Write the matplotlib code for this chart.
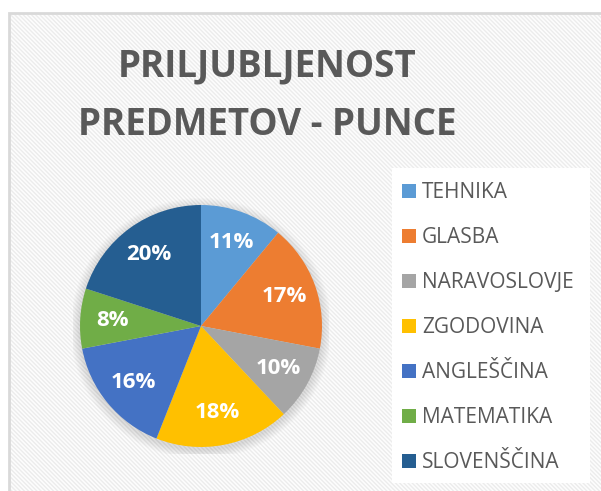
import numpy as np
import matplotlib.pyplot as plt
from matplotlib.patches import Rectangle, Circle

# Data ---------------------------------------------------------------------------------------------
title    = "PRILJUBLJENOST\nPREDMETOV - PUNCE"
subjects = ["TEHNIKA", "GLASBA", "NARAVOSLOVJE", "ZGODOVINA", "ANGLEŠČINA", "MATEMATIKA", "SLOVENŠČINA"]
shares   = [11, 17, 10, 18, 16, 8, 20]
colors   = ["#5B9BD5", "#ED7D31", "#A5A5A5", "#FFC000", "#4472C4", "#70AD47", "#255E91"]

W, H = 601, 491
plt.rcParams['font.family'] = ['Open Sans', 'DejaVu Sans']
plt.rcParams['hatch.linewidth'] = 1.0

fig = plt.figure(figsize=(W / 100, H / 100), dpi=100)
fig.patch.set_facecolor("white")

def px_rect(x0, y0, x1, y1):
    # pixel box (top-left origin) -> figure fraction
    return (x0 / W, 1 - y1 / H, (x1 - x0) / W, (y1 - y0) / H)

# Chart frame with diagonal stripes
x, y, w, h = px_rect(9, 13, 610, 500)
fig.patches.append(Rectangle((x, y), w, h, transform=fig.transFigure, facecolor="#fdfdfd",
                             edgecolor="#ececec", linewidth=0, hatch="\\" * 8, zorder=-3))
fig.patches.append(Rectangle((x, y), w, h, transform=fig.transFigure, facecolor="none",
                             edgecolor="#d9d9d9", linewidth=2.0, zorder=-2))
# Legend area (plain)
x, y, w, h = px_rect(392, 168, 590, 483)
fig.patches.append(Rectangle((x, y), w, h, transform=fig.transFigure, facecolor="white",
                             edgecolor="none", zorder=-1))

# Title
fig.text(267 / W, 1 - 96 / H, title, ha="center", va="center", fontsize=26.5, fontweight="bold",
         color="#595959", linespacing=1.7)

# Pie
cx, cy, r = 201, 326, 121
pad = 1.06
ax = fig.add_axes(px_rect(cx - r * pad, cy - r * pad, cx + r * pad, cy + r * pad))

# soft shadow
for k in range(8):
    ax.add_patch(Circle((0.0, -0.02), 1.0 + 0.01 * (8 - k), color="#000000", alpha=0.014, lw=0))

wedges, texts, autotexts = ax.pie(shares, colors=colors, startangle=90, counterclock=False,
                                  autopct="%1.0f%%", pctdistance=0.73,
                                  wedgeprops=dict(linewidth=0),
                                  textprops=dict(color="white", fontsize=16, fontweight="bold"))
ax.set_xlim(-pad, pad)
ax.set_ylim(-pad, pad)
ax.set_aspect("equal")
ax.axis("off")

# Legend
fig.legend(wedges, subjects, loc="upper left", bbox_to_anchor=(392 / W, 1 - 172 / H),
           frameon=False, fontsize=15, handlelength=0.65, handleheight=0.65, handletextpad=0.3,
           labelspacing=1.15, labelcolor="#595959", borderpad=0)

fig.savefig("out.png", dpi=100)
